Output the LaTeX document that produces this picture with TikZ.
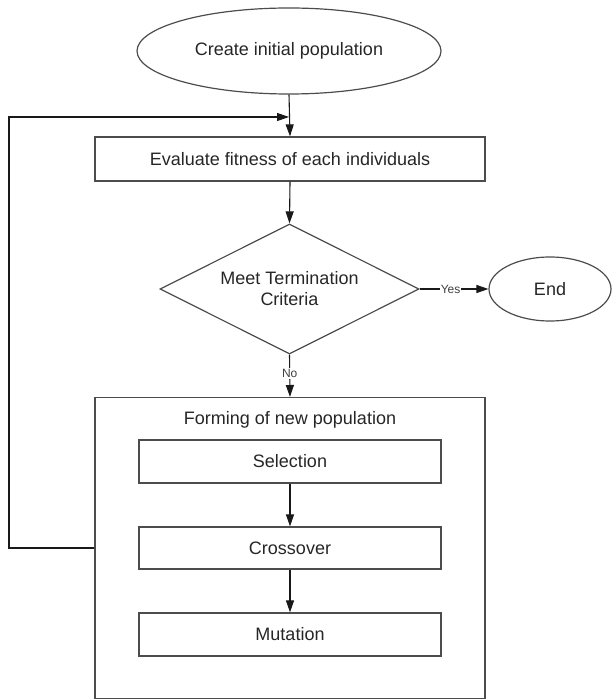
\documentclass[tikz,border=0pt]{standalone}
\usepackage{fontspec}
\setmainfont{Liberation Sans}
\usetikzlibrary{shapes.geometric,arrows.meta}
\begin{document}
\begin{tikzpicture}[x=1pt,y=-1pt,
  every node/.style={font=\fontsize{18}{21}\selectfont, text=black!85},
  shp/.style={draw=black!70, line width=1.2pt, inner sep=0pt},
  boxx/.style={shp, rectangle},
  ell/.style={shp, ellipse},
  dia/.style={shp, diamond, aspect=2},
  arr/.style={draw=black!90, line width=1.1pt, -{Triangle[length=12pt,width=8pt]}},
  lbl/.style={font=\fontsize{12}{14}\selectfont, text=black!75, fill=white, inner sep=1pt}]
\useasboundingbox (0,0) rectangle (612,700);
\node[ell, minimum width=304, minimum height=86] (start) at (289,51) {Create initial population};
\node[boxx, minimum width=390, minimum height=44] (eval) at (290,159) {Evaluate fitness of each individuals};
\node[dia, minimum width=259, minimum height=130, align=center] (dec) at (289.5,289) {Meet Termination\\Criteria};
\node[ell, minimum width=122, minimum height=64] (endn) at (550,289) {End};
\node[boxx, minimum width=390, minimum height=301, anchor=north] (form) at (290,397) {};
\node (formt) at (290,420) {Forming of new population};
\node[boxx, minimum width=302, minimum height=43] (sel) at (290,461.5) {Selection};
\node[boxx, minimum width=302, minimum height=42] (cross) at (290,548) {Crossover};
\node[boxx, minimum width=302, minimum height=43] (mut) at (290,634.5) {Mutation};
\coordinate (fb) at (289,117);
\coordinate (lc) at (9,117);
\draw[arr] (start.south) -- (eval.north);
\draw[arr] (eval.south) -- (dec.north);
\draw[arr] (dec.east) -- node[lbl, pos=0.45] {Yes} (endn.west);
\draw[arr] (dec.south) -- node[lbl, pos=0.45] {No} (form.north);
\draw[arr] (sel.south) -- (cross.north);
\draw[arr] (cross.south) -- (mut.north);
\draw[arr] (form.west |- cross.center) -- (lc |- cross.center) -- (lc) -- (fb);
\end{tikzpicture}
\end{document}
